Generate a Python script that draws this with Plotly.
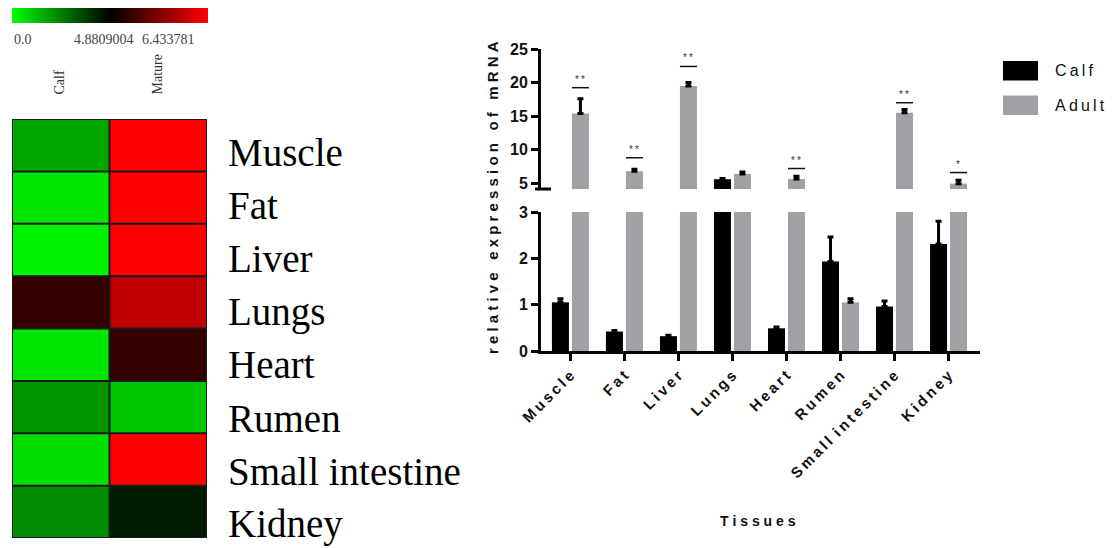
import plotly.graph_objects as go

W, H = 1120, 548

# ---------------- data ----------------
tissues = ["Muscle", "Fat", "Liver", "Lungs", "Heart", "Rumen", "Small intestine", "Kidney"]

# heatmap (expression values)
heat_cols = ["Calf", "Mature"]
calf_expr = [1.71, 0.49, 0.24, 5.19, 0.49, 2.05, 0.59, 2.20]
mature_expr = [6.43, 6.43, 6.43, 6.05, 5.19, 1.07, 6.43, 4.39]
cbar_min, cbar_mid, cbar_max = 0.0, 4.8809004, 6.433781
cbar_labels = ["0.0", "4.8809004", "6.433781"]

# bar chart
calf_vals = [1.05, 0.42, 0.32, 5.6, 0.49, 1.93, 0.96, 2.31]
calf_err = [0.08, 0.02, 0.02, 0.1, 0.03, 0.53, 0.12, 0.49]
adult_vals = [15.4, 6.8, 19.5, 6.4, 5.64, 1.05, 15.5, 4.95]
adult_err = [2.2, 0.3, 0.5, 0.3, 0.4, 0.08, 0.5, 0.5]
sig_idx = [0, 1, 2, 4, 6, 7]
sig_y = [19.24, 8.8, 22.4, 7.2, 17.0, 6.6]
sig_text = ["**", "**", "**", "**", "**", "*"]
upper_ticks = [5, 10, 15, 20, 25]
lower_ticks = [0, 1, 2, 3]
legend_names = ["Calf", "Adult"]

CALF_C = "#000000"
ADULT_C = "#a1a1a5"
SANS = "Liberation Sans, Arial, sans-serif"
SERIF = "Liberation Serif, Times New Roman, serif"


def spaced(s, gap="\u00a0", word_gap="\u00a0\u00a0"):
    return word_gap.join(gap.join(list(w)) for w in s.split(" "))


def colour_pos(v):
    # piecewise scale: cbar_min -> 0, cbar_mid -> 0.5, cbar_max -> 1
    if v <= cbar_mid:
        return 0.5 * (v - cbar_min) / (cbar_mid - cbar_min)
    return 0.5 + 0.5 * (v - cbar_mid) / (cbar_max - cbar_mid)


def px(xp):
    return xp / W


def py(yp):
    return 1 - yp / H


fig = go.Figure()

# ---------------- heatmap ----------------
z = [[colour_pos(c), colour_pos(m)] for c, m in zip(calf_expr, mature_expr)]
fig.add_trace(go.Heatmap(
    z=z, x=[0, 1], y=list(range(len(tissues))),
    xaxis="x3", yaxis="y3", zmin=0, zmax=1,
    colorscale=[[0, "#00ff00"], [0.5, "#000000"], [1, "#ff0000"]],
    hoverinfo="skip",
    colorbar=dict(orientation="h", x=px(12), xanchor="left", y=py(8), yanchor="top",
                  len=196, lenmode="pixels", thickness=15, thicknessmode="pixels",
                  outlinewidth=0, showticklabels=False, ticks="", xpad=0, ypad=0),
))

# ---------------- bars ----------------
for ax_x, ax_y in (("x", "y"), ("x2", "y2")):
    fig.add_trace(go.Bar(
        x=list(range(len(tissues))), y=calf_vals, name=legend_names[0],
        xaxis=ax_x, yaxis=ax_y, width=0.315, offset=-0.335,
        marker=dict(color=CALF_C, line=dict(width=0)), showlegend=False,
        error_y=dict(type="data", symmetric=False, array=calf_err,
                     arrayminus=[0] * len(calf_err), color="#000", thickness=3, width=3),
    ))
    fig.add_trace(go.Bar(
        x=list(range(len(tissues))), y=adult_vals, name=legend_names[1],
        xaxis=ax_x, yaxis=ax_y, width=0.315, offset=0.035,
        marker=dict(color=ADULT_C, line=dict(width=0)), showlegend=False,
        error_y=dict(type="data", symmetric=False, array=adult_err,
                     arrayminus=[0] * len(adult_err), color="#000", thickness=3, width=3),
    ))

shapes = []
annotations = []

# significance lines & stars
for i, yv, t in zip(sig_idx, sig_y, sig_text):
    shapes.append(dict(type="line", xref="x", yref="y", x0=i + 0.035, x1=i + 0.35,
                       y0=yv, y1=yv, line=dict(color="#111", width=1.5)))
    annotations.append(dict(xref="x", yref="y", x=i + 0.19, y=yv, yshift=1,
                            yanchor="bottom", showarrow=False, text="\u2009".join(t),
                            font=dict(family=SANS, size=10, color="#333")))

# axis break mark
shapes.append(dict(type="line", xref="paper", yref="paper", x0=px(535), x1=px(551),
                   y0=py(189), y1=py(189), line=dict(color="#000", width=3)))

# heatmap cell borders
n = len(tissues)
shapes.append(dict(type="rect", xref="x3", yref="y3", x0=-0.5, x1=1.5, y0=-0.5, y1=n - 0.5,
                   line=dict(color="#1a1a1a", width=2)))
shapes.append(dict(type="line", xref="x3", yref="y3", x0=0.5, x1=0.5, y0=-0.5, y1=n - 0.5,
                   line=dict(color="#1a1a1a", width=2)))
for k in range(n - 1):
    shapes.append(dict(type="line", xref="x3", yref="y3", x0=-0.5, x1=1.5, y0=k + 0.5, y1=k + 0.5,
                       line=dict(color="#1a1a1a", width=2)))

# heatmap row labels
for i, t in enumerate(tissues):
    annotations.append(dict(xref="paper", yref="y3", x=px(226), y=i, yshift=-7 - i * 0.8,
                            xanchor="left", yanchor="middle", showarrow=False, text=t,
                            font=dict(family=SERIF, size=39, color="#000")))
# heatmap column labels
for xc, t in zip([59.5, 157.5], heat_cols):
    annotations.append(dict(xref="paper", yref="paper", x=px(xc), y=py(97), textangle=-90,
                            xanchor="center", yanchor="bottom", showarrow=False, text=t,
                            font=dict(family=SERIF, size=14, color="#333")))
# colorbar labels
for xl, t in zip([12, 72, 140], cbar_labels):
    annotations.append(dict(xref="paper", yref="paper", x=px(xl), y=py(39), xanchor="left",
                            yanchor="middle", showarrow=False, text=t,
                            font=dict(family=SERIF, size=14, color="#444")))

# legend
for k, (name, col) in enumerate(zip(legend_names, [CALF_C, ADULT_C])):
    y0 = 61 + k * 34.5
    shapes.append(dict(type="rect", xref="paper", yref="paper", x0=px(1003), x1=px(1038),
                       y0=py(y0), y1=py(y0 + 19.5), fillcolor=col, line=dict(width=0)))
    annotations.append(dict(xref="paper", yref="paper", x=px(1053), y=py(y0 + 10),
                            xanchor="left", yanchor="middle", showarrow=False,
                            text=spaced(name, "\u2009"),
                            font=dict(family=SANS, size=16, color="#111")))

# axis titles
annotations.append(dict(xref="paper", yref="paper", x=px(492), y=py(198), textangle=-90,
                        xanchor="center", yanchor="middle", showarrow=False,
                        text=spaced("relative expression of mRNA", "\u00a0", "\u00a0\u00a0\u00a0"),
                        font=dict(family=SANS, size=15, color="#111", weight="bold")))
annotations.append(dict(xref="paper", yref="paper", x=px(758), y=py(521),
                        xanchor="center", yanchor="middle", showarrow=False,
                        text=spaced("Tissues", "\u00a0"),
                        font=dict(family=SANS, size=14, color="#111", weight="bold")))

xr = [-0.537, 7.59]
tickfont = dict(family=SANS, size=16, color="#111", weight="bold")
fig.update_layout(
    width=W, height=H,
    margin=dict(l=0, r=0, t=0, b=0, autoexpand=False),
    paper_bgcolor="white", plot_bgcolor="white",
    barmode="overlay", showlegend=False,
    xaxis=dict(domain=[px(541), px(980)], range=xr, anchor="y",
               showline=False, showticklabels=False, ticks="", showgrid=False, zeroline=False),
    yaxis=dict(domain=[py(189), py(49)], range=[4.15, 25], anchor="x",
               tickvals=upper_ticks, showline=True, linewidth=3, linecolor="#000",
               ticks="outside", ticklen=7, tickwidth=3, tickcolor="#000",
               showgrid=False, zeroline=False, tickfont=tickfont),
    xaxis2=dict(domain=[px(541), px(980)], range=xr, anchor="y2",
                tickvals=list(range(len(tissues))),
                ticktext=[spaced(t, "\u2009", "\u00a0\u2009") for t in tissues],
                tickangle=-45, showline=True, linewidth=3, linecolor="#000",
                ticks="outside", ticklen=7, tickwidth=3, tickcolor="#000",
                showgrid=False, zeroline=False,
                tickfont=dict(family=SANS, size=15, color="#111", weight="bold")),
    yaxis2=dict(domain=[py(351), py(212)], range=[0, 3], anchor="x2",
                tickvals=lower_ticks, showline=True, linewidth=3, linecolor="#000",
                ticks="outside", ticklen=7, tickwidth=3, tickcolor="#000",
                showgrid=False, zeroline=False, tickfont=tickfont),
    xaxis3=dict(domain=[px(12), px(207)], range=[-0.5, 1.5], anchor="y3", visible=False),
    yaxis3=dict(domain=[py(538), py(119)], range=[n - 0.5, -0.5], anchor="x3", visible=False),
    shapes=shapes, annotations=annotations,
)

fig.write_html("out.html", config={"displayModeBar": False},
               post_script="document.body.style.margin='0';document.body.style.overflow='hidden';")
